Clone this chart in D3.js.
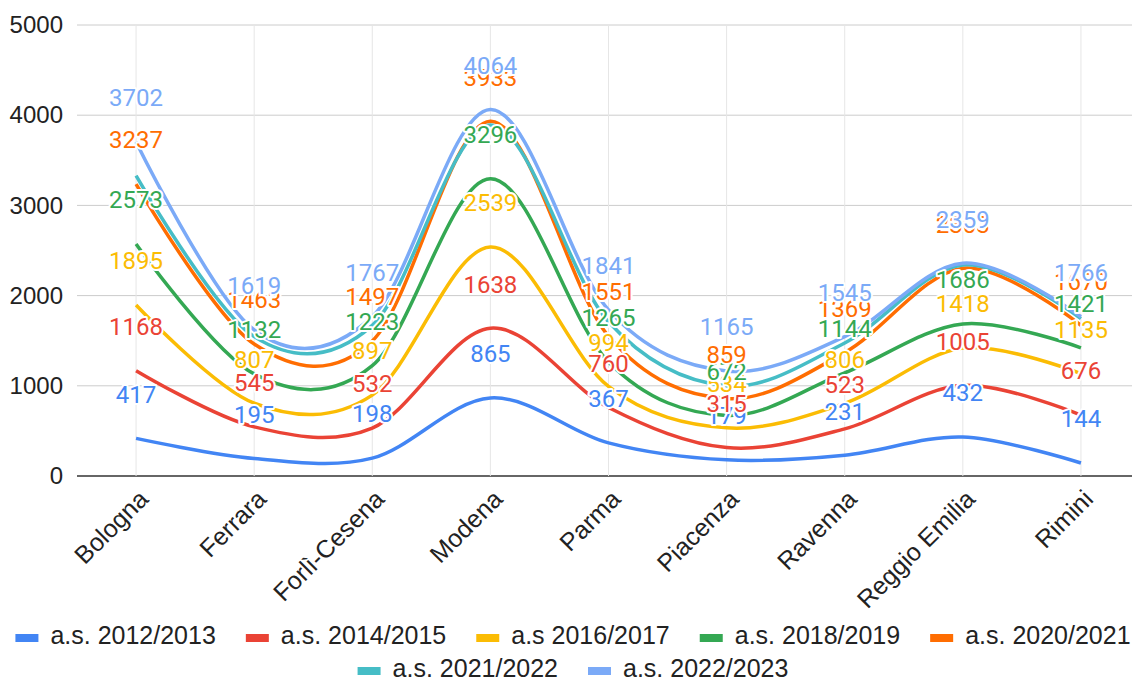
<!DOCTYPE html>
<meta charset="utf-8">
<body style="margin:0;background:#fff">
<script src="https://cdn.jsdelivr.net/npm/d3@7/dist/d3.min.js"></script>
<script>
// provinces on the x axis
var categories = ["Bologna", "Ferrara", "Forlì-Cesena", "Modena", "Parma", "Piacenza", "Ravenna", "Reggio Emilia", "Rimini"];

// one array per school year
var as2012 = [417, 195, 198, 865, 367, 179, 231, 432, 144];
var as2014 = [1168, 545, 532, 1638, 760, 315, 523, 1005, 676];
var as2016 = [1895, 807, 897, 2539, 994, 534, 806, 1418, 1135];
var as2018 = [2573, 1132, 1223, 3296, 1265, 672, 1144, 1686, 1421];
var as2020 = [3237, 1463, 1497, 3933, 1551, 859, 1369, 2303, 1670];
var as2021 = [3330, 1545, 1670, 3890, 1710, 1000, 1475, 2340, 1745];
var as2022 = [3702, 1619, 1767, 4064, 1841, 1165, 1545, 2359, 1766];

var seriesNames = ["a.s. 2012/2013", "a.s. 2014/2015", "a.s 2016/2017", "a.s. 2018/2019", "a.s. 2020/2021", "a.s. 2021/2022", "a.s. 2022/2023"];
var yTicks = [0, 1000, 2000, 3000, 4000, 5000];

var colors = ["#4285f4", "#ea4335", "#fbbc04", "#34a853", "#ff6d01", "#46bdc6", "#7baaf7"];
// the 2021/2022 line has no data labels in the original
var showLabels = [true, true, true, true, true, false, true];

var series = [as2012, as2014, as2016, as2018, as2020, as2021, as2022].map(function(vals, i) {
  return {name: seriesNames[i], color: colors[i], labels: showLabels[i], values: vals};
});

var width = 1132, height = 681;
var margin = {top: 25, right: -8, bottom: 205, left: 77};
var axisFont = "'Liberation Sans', Arial, sans-serif";

var svg = d3.select("body").append("svg")
  .attr("width", width)
  .attr("height", height)
  .style("display", "block");

var x = d3.scalePoint()
  .domain(categories)
  .range([margin.left, width - margin.right])
  .padding(0.5);

var y = d3.scaleLinear()
  .domain([0, 5000])
  .range([height - margin.bottom, margin.top]);

// horizontal gridlines
svg.append("g")
  .selectAll("line")
  .data(yTicks)
  .enter()
  .append("line")
  .attr("x1", margin.left)
  .attr("x2", width - margin.right)
  .attr("y1", function(d) { return y(d); })
  .attr("y2", function(d) { return y(d); })
  .attr("stroke", function(d) { return d === 0 ? "#333" : "#ccc"; })
  .attr("stroke-width", function(d) { return d === 0 ? 1.5 : 1; });

// vertical gridlines at each category
svg.append("g")
  .selectAll("line")
  .data(categories)
  .enter()
  .append("line")
  .attr("x1", function(d) { return x(d); })
  .attr("x2", function(d) { return x(d); })
  .attr("y1", y(5000))
  .attr("y2", y(0))
  .attr("stroke", "#e6e6e6");

// y axis labels
var yAxis = svg.append("g")
  .attr("transform", "translate(" + (margin.left - 14) + ",0)")
  .call(d3.axisLeft(y).tickValues(yTicks).tickFormat(d3.format("d")).tickSize(0).tickPadding(0));
yAxis.select(".domain").remove();
yAxis.selectAll("text")
  .attr("font-family", axisFont)
  .attr("font-size", 24)
  .attr("fill", "#222");

// x axis labels, rotated
svg.append("g")
  .selectAll("text")
  .data(categories)
  .enter()
  .append("text")
  .attr("transform", function(d) { return "translate(" + (x(d) + 9) + "," + (y(0) + 20) + ") rotate(-45)"; })
  .attr("text-anchor", "end")
  .attr("dominant-baseline", "middle")
  .attr("font-family", axisFont)
  .attr("font-size", 25)
  .attr("fill", "#222")
  .text(function(d) { return d; });

// smooth lines
var line = d3.line()
  .x(function(d, i) { return x(categories[i]); })
  .y(function(d) { return y(d); })
  .curve(d3.curveCardinal.tension(0));

svg.append("g")
  .selectAll("path")
  .data(series)
  .enter()
  .append("path")
  .attr("d", function(d) { return line(d.values); })
  .attr("fill", "none")
  .attr("stroke", function(d) { return d.color; })
  .attr("stroke-width", 3.5);

// data labels with a white halo
var labelGroups = svg.append("g")
  .selectAll("g")
  .data(series.filter(function(d) { return d.labels; }))
  .enter()
  .append("g");

labelGroups.selectAll("text")
  .data(function(s) { return s.values.map(function(v, i) { return {v: v, cat: categories[i], color: s.color}; }); })
  .enter()
  .append("text")
  .attr("x", function(d) { return x(d.cat); })
  .attr("y", function(d) { return y(d.v) - 42; })
  .attr("text-anchor", "middle")
  .attr("dominant-baseline", "middle")
  .attr("font-family", "Roboto, sans-serif")
  .attr("font-size", 24)
  .attr("fill", function(d) { return d.color; })
  .attr("stroke", "#fff")
  .attr("stroke-width", 4)
  .attr("stroke-linejoin", "round")
  .attr("paint-order", "stroke")
  .text(function(d) { return d.v; });

// legend, two centred rows
var legendRows = [
  {items: series.slice(0, 5), cx: 573, cy: 637},
  {items: series.slice(5), cx: 573, cy: 670}
];

legendRows.forEach(function(row) {
  var g = svg.append("g");
  var xpos = 0;
  row.items.forEach(function(s) {
    g.append("rect")
      .attr("x", xpos)
      .attr("y", row.cy - 3)
      .attr("width", 23)
      .attr("height", 8)
      .attr("fill", s.color);
    var t = g.append("text")
      .attr("x", xpos + 35)
      .attr("y", row.cy)
      .attr("dominant-baseline", "middle")
      .attr("font-family", axisFont)
      .attr("font-size", 25)
      .attr("fill", "#222")
      .text(s.name);
    xpos += 35 + t.node().getComputedTextLength() + 30;
  });
  var total = xpos - 30;
  g.attr("transform", "translate(" + (row.cx - total / 2) + ",0)");
});
</script>
</body>
